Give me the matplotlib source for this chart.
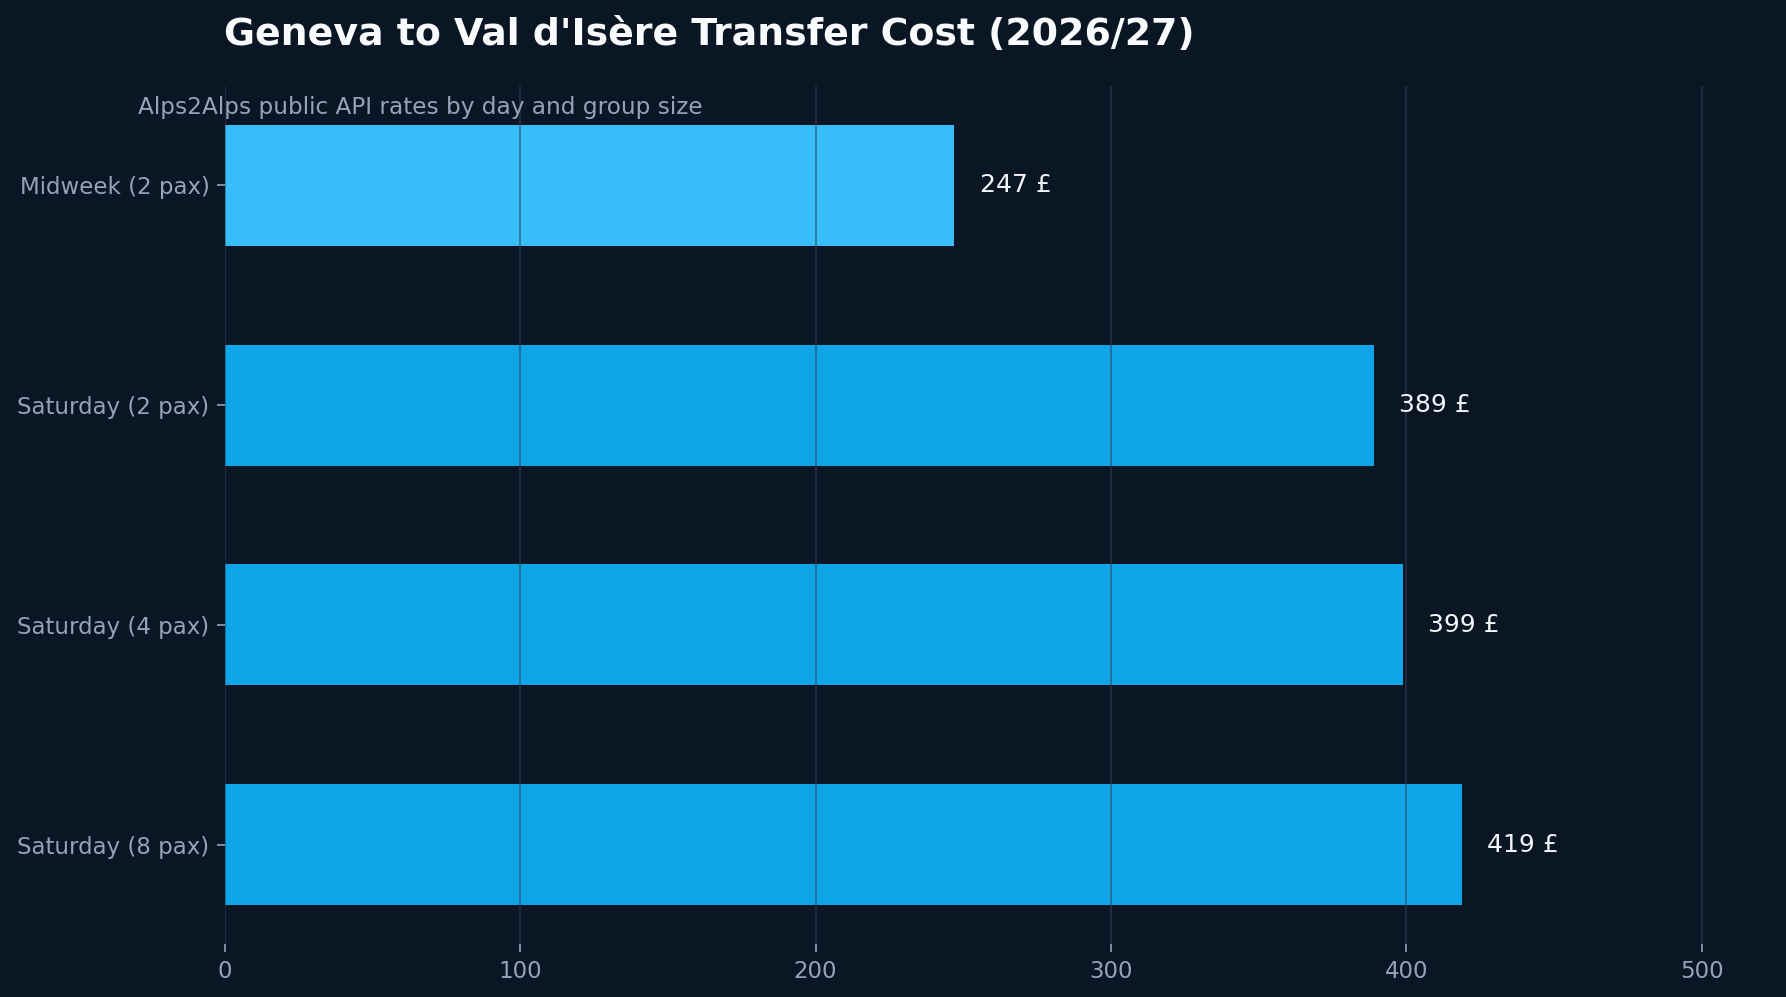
import matplotlib.pyplot as plt
import numpy as np

# data
labels = ['Midweek (2 pax)', 'Saturday (2 pax)', 'Saturday (4 pax)', 'Saturday (8 pax)']
prices = [247, 389, 399, 419]
bar_colors = ['#38bdf8', '#0ea5e9', '#0ea5e9', '#0ea5e9']

bg = '#0b1624'

fig = plt.figure(figsize=(1786 / 150, 997 / 150), dpi=150, facecolor=bg)
ax = fig.add_axes([225 / 1786, 1 - 944 / 997, (1768 - 225) / 1786, (944 - 86) / 997])
ax.set_facecolor(bg)

y = np.arange(len(labels))
ax.barh(y, prices, height=0.55, color=bar_colors, zorder=1)
ax.set_yticks(y)
ax.set_yticklabels(labels)
ax.invert_yaxis()

ax.set_xlim(0, 522.5)
ax.set_xticks([0, 100, 200, 300, 400, 500])

ax.grid(axis='x', color='#334155', alpha=0.6, linewidth=0.8, zorder=2)
ax.set_axisbelow(False)
for s in ax.spines.values():
    s.set_visible(False)

ax.tick_params(colors='#94a3b8', labelsize=11, length=4, width=0.8)

for yi, p in zip(y, prices):
    ax.text(p + 8.5, yi, f'{p} £', va='center', ha='left', color='#f1f5f9', fontsize=12)

fig.text(224 / 1786, 1 - 45 / 997, "Geneva to Val d'Isère Transfer Cost (2026/27)",
         color='#f8fafc', fontsize=18.2, fontweight='bold', ha='left', va='baseline')
fig.text(138 / 1786, 1 - 114 / 997, 'Alps2Alps public API rates by day and group size',
         color='#94a3b8', fontsize=11.1, ha='left', va='baseline')

fig.savefig('out.png', dpi=150, facecolor=bg)
